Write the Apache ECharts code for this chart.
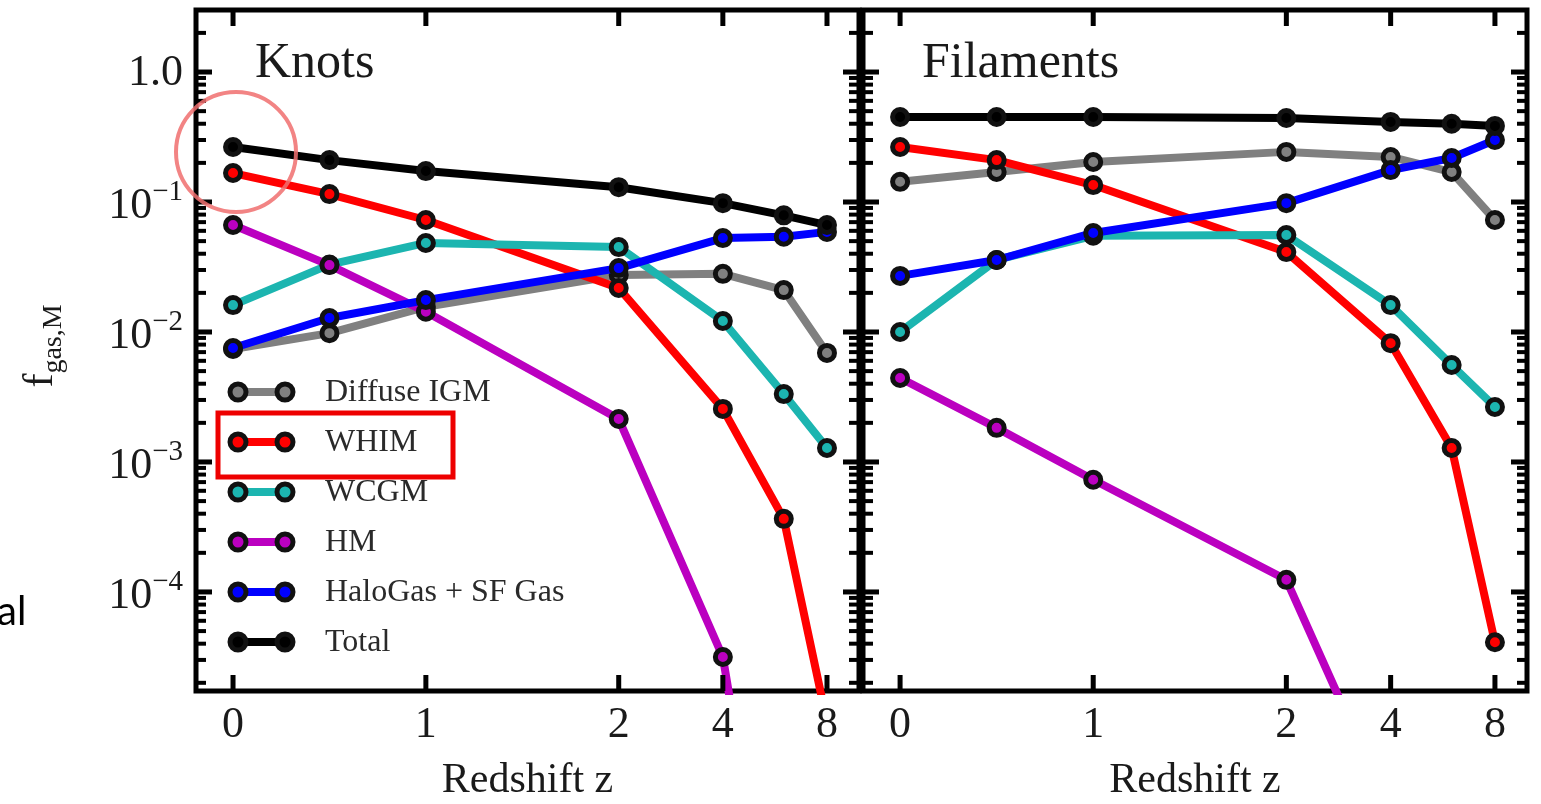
<!DOCTYPE html>
<html>
<head>
<meta charset="utf-8">
<script src="https://cdn.jsdelivr.net/npm/echarts@6/dist/echarts.min.js"></script>
<style>
  html, body { margin: 0; padding: 0; background: #fff; }
  #chart { width: 1541px; height: 804px; }
</style>
</head>
<body>
<div id="chart"></div>
<script>
// Redshift samples shared by every curve
const redshifts = [0, 0.5, 1, 2, 4, 6, 8];
const seriesNames = ['Diffuse IGM', 'WHIM', 'WCGM', 'HM', 'HaloGas + SF Gas', 'Total'];

// Gas mass fractions in knots
const knotsDiffuse = [0.0074, 0.0098, 0.0156, 0.0274, 0.028, 0.021, 0.0069];
const knotsWHIM    = [0.167, 0.115, 0.0727, 0.0218, 0.00256, 0.000365, 0.00001];
const knotsWCGM    = [0.0161, 0.0330, 0.0484, 0.045, 0.01215, 0.00333, 0.00128];
const knotsHM      = [0.0665, 0.0327, 0.0143, 0.00214, 0.0000316, 5e-8, null];
const knotsHalo    = [0.00753, 0.0128, 0.0176, 0.031, 0.0528, 0.054, 0.0589];
const knotsTotal   = [0.265, 0.21, 0.173, 0.130, 0.098, 0.079, 0.0665];

// Gas mass fractions in filaments
const filDiffuse = [0.143, 0.170, 0.203, 0.243, 0.222, 0.170, 0.0727];
const filWHIM    = [0.265, 0.21, 0.135, 0.0412, 0.0082, 0.00128, 0.000041];
const filWCGM    = [0.0100, 0.0358, 0.055, 0.0557, 0.0161, 0.00557, 0.00265];
const filHM      = [0.00443, 0.00183, 0.00073, 0.000124, 0.000002, null, null];
const filHalo    = [0.027, 0.0358, 0.0578, 0.098, 0.176, 0.218, 0.30];
const filTotal   = [0.451, 0.451, 0.451, 0.443, 0.413, 0.40, 0.385];

// Axis ticks
const xTickValues = [0, 1, 2, 4, 8];
const yLabelValues = [1, 0.1, 0.01, 0.001, 0.0001];
const yLabelTexts = ['1.0', '{b|10}{s|\u22121}', '{b|10}{s|\u22122}', '{b|10}{s|\u22123}', '{b|10}{s|\u22124}'];
const panelTitles = ['Knots', 'Filaments'];

const COLORS = ['#808080', '#ff0000', '#1cb5b0', '#bb00c0', '#0000ff', '#000000'];
const SERIF = '"Liberation Serif", "DejaVu Serif", serif';

// Redshift axis: linear up to z = 2, then a fixed step per doubling of z
const LOG_STEP = 0.54;
function zAxis(z) { return z <= 2 ? z : 2 + LOG_STEP * Math.log2(z / 2); }

const X_MIN = -0.192, X_MAX = 3.246;
const Y_MIN = 1.73e-5, Y_MAX = 3.0;

const panels = [
  [knotsDiffuse, knotsWHIM, knotsWCGM, knotsHM, knotsHalo, knotsTotal],
  [filDiffuse, filWHIM, filWCGM, filHM, filHalo, filTotal]
];

const grids = [
  { left: 196, top: 10, width: 663, height: 681 },
  { left: 863, top: 10, width: 664, height: 681 }
];

// Tick list: decade ticks (major), 2..9 multiples (minor), plus the redshift ticks
function buildTicks() {
  const t = [];
  for (let e = -5; e <= 0; e++) {
    for (let m = 1; m <= 9; m++) {
      const v = m * Math.pow(10, e);
      if (v <= Y_MIN || v >= Y_MAX) continue;
      const li = yLabelValues.findIndex(d => Math.abs(d - v) / v < 1e-9);
      t.push({ axis: 'y', value: v, major: m === 1, label: li >= 0 ? yLabelTexts[li] : null });
    }
  }
  xTickValues.forEach(z => t.push({ axis: 'x', value: z }));
  return t;
}
const ticks = buildTicks();

function seg(x1, y1, x2, y2, w) {
  return { type: 'line', shape: { x1, y1, x2, y2 }, style: { stroke: '#000', lineWidth: w } };
}

function tickSeries(gi) {
  return {
    type: 'custom',
    xAxisIndex: gi,
    yAxisIndex: gi,
    z: 10,
    silent: true,
    data: ticks.map(t => t.axis === 'y' ? [X_MIN, t.value] : [zAxis(t.value), Y_MIN]),
    renderItem: (params, api) => {
      const t = ticks[params.dataIndex];
      const cs = params.coordSys;
      const p = api.coord([api.value(0), api.value(1)]);
      const children = [];
      if (t.axis === 'y') {
        const len = t.major ? 16 : 10;
        const w = t.major ? 5 : 4;
        const y = p[1];
        children.push(seg(cs.x, y, cs.x + len, y, w));
        children.push(seg(cs.x + cs.width - len, y, cs.x + cs.width, y, w));
        if (t.label && gi === 0) {
          children.push({
            type: 'text',
            style: {
              text: t.label, x: cs.x - 13, y: y + 1,
              align: 'right', verticalAlign: 'middle',
              textAlign: 'right', textVerticalAlign: 'middle',
              fill: '#1a1a1a', fontSize: 44, fontFamily: SERIF,
              rich: {
                b: { fontSize: 44, fontFamily: SERIF, fill: '#1a1a1a', lineHeight: 50, verticalAlign: 'bottom' },
                s: { fontSize: 29, fontFamily: SERIF, fill: '#1a1a1a', lineHeight: 30, verticalAlign: 'top' }
              }
            }
          });
        }
      } else {
        const x = p[0];
        children.push(seg(x, cs.y, x, cs.y + 16, 5));
        children.push(seg(x, cs.y + cs.height - 16, x, cs.y + cs.height, 5));
        children.push({
          type: 'text',
          style: {
            text: String(t.value), x: x, y: cs.y + cs.height + 34,
            align: 'center', verticalAlign: 'middle',
            textAlign: 'center', textVerticalAlign: 'middle',
            fill: '#1a1a1a', fontSize: 44, fontFamily: SERIF
          }
        });
      }
      return { type: 'group', children };
    }
  };
}

function lineSeries(gi, si) {
  const vals = panels[gi][si];
  return {
    type: 'line',
    name: seriesNames[si],
    xAxisIndex: gi,
    yAxisIndex: gi,
    z: 2 + si * 0.1,
    data: redshifts.map((z, i) => [zAxis(z), vals[i]]),
    symbol: 'circle',
    symbolSize: 15,
    showAllSymbol: true,
    clip: true,
    lineStyle: { color: COLORS[si], width: 8 },
    itemStyle: { color: COLORS[si], borderColor: '#111', borderWidth: 5 },
    emphasis: { disabled: true }
  };
}

const series = [];
[0, 1].forEach(gi => {
  seriesNames.forEach((_, si) => series.push(lineSeries(gi, si)));
  series.push(tickSeries(gi));
});

// Legend rows, panel titles, axis titles and annotations
const graphic = [];
const LEG_X1 = 238, LEG_X2 = 285, LEG_TEXT_X = 325, LEG_Y0 = 392, LEG_STEP = 50;
seriesNames.forEach((name, i) => {
  const y = LEG_Y0 + i * LEG_STEP;
  graphic.push({ type: 'line', z: 20, shape: { x1: LEG_X1, y1: y, x2: LEG_X2, y2: y }, style: { stroke: COLORS[i], lineWidth: 8 } });
  [LEG_X1, LEG_X2].forEach(cx => graphic.push({
    type: 'circle', z: 21, shape: { cx, cy: y, r: 8 },
    style: { fill: COLORS[i], stroke: '#111', lineWidth: 5 }
  }));
  graphic.push({
    type: 'text', z: 21, x: LEG_TEXT_X, y: y + 1,
    style: { text: name, fontSize: 32, fontFamily: SERIF, fill: '#2a2a2a', align: 'left', verticalAlign: 'middle', textAlign: 'left', textVerticalAlign: 'middle' }
  });
});

grids.forEach((g, gi) => {
  graphic.push({
    type: 'text', z: 21, x: g.left + 59, y: 64,
    style: { text: panelTitles[gi], fontSize: 50, fontFamily: SERIF, fill: '#1a1a1a', align: 'left', verticalAlign: 'middle', textAlign: 'left', textVerticalAlign: 'middle' }
  });
  graphic.push({
    type: 'text', z: 21, x: g.left + g.width / 2, y: 781,
    style: { text: 'Redshift z', fontSize: 42, fontFamily: SERIF, fill: '#1a1a1a', align: 'center', verticalAlign: 'middle', textAlign: 'center', textVerticalAlign: 'middle' }
  });
});

graphic.push({
  type: 'text', z: 21, x: 44, y: 346, rotation: Math.PI / 2,
  style: {
    text: '{f|f}{s|gas,M}', align: 'center', verticalAlign: 'middle', textAlign: 'center', textVerticalAlign: 'middle',
    rich: {
      f: { fontSize: 42, fontFamily: SERIF, fill: '#1a1a1a', lineHeight: 48, verticalAlign: 'top' },
      s: { fontSize: 28, fontFamily: SERIF, fill: '#1a1a1a', lineHeight: 30, verticalAlign: 'bottom' }
    }
  }
});

graphic.push({
  type: 'text', z: 21, x: -3, y: 612,
  style: { text: 'al', fontSize: 40, fontFamily: 'Lato, "Open Sans", sans-serif', fill: '#000', align: 'left', verticalAlign: 'middle', textAlign: 'left', textVerticalAlign: 'middle' }
});

graphic.push({
  type: 'circle', z: 30, shape: { cx: 236, cy: 152, r: 60 },
  style: { fill: 'none', stroke: 'rgba(240,110,110,0.85)', lineWidth: 4 }
});
graphic.push({
  type: 'rect', z: 30, shape: { x: 218, y: 413, width: 235, height: 64 },
  style: { fill: 'none', stroke: '#ee0000', lineWidth: 5 }
});

const hiddenAxis = { show: false, splitLine: { show: false } };

const option = {
  animation: false,
  backgroundColor: '#ffffff',
  grid: grids.map(g => Object.assign({ show: true, borderColor: '#000', borderWidth: 5, backgroundColor: 'transparent', containLabel: false }, g)),
  xAxis: [0, 1].map(gi => Object.assign({ type: 'value', gridIndex: gi, min: X_MIN, max: X_MAX }, hiddenAxis)),
  yAxis: [0, 1].map(gi => Object.assign({ type: 'log', logBase: 10, gridIndex: gi, min: Y_MIN, max: Y_MAX }, hiddenAxis)),
  series: series,
  graphic: graphic
};

const chart = echarts.init(document.getElementById('chart'), null, { renderer: 'canvas' });
chart.setOption(option);
</script>
</body>
</html>
